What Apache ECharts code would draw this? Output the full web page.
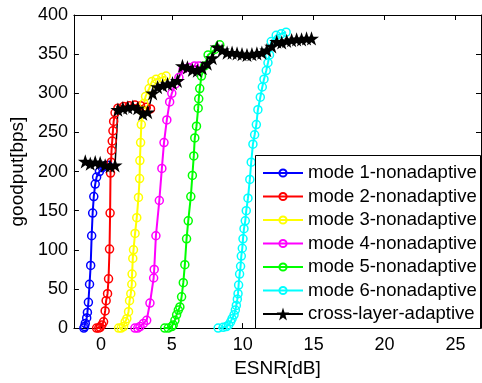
<!DOCTYPE html>
<html><head><meta charset="utf-8">
<script src="https://cdn.jsdelivr.net/npm/echarts@6/dist/echarts.min.js"></script>
<style>html,body{margin:0;padding:0;background:#fff}#c{width:482px;height:383px}</style>
</head><body><div id="c"></div><script>
const xTicks = [0, 5, 10, 15, 20, 25];
const yTicks = [0, 50, 100, 150, 200, 250, 300, 350, 400];
const seriesNames = ['mode 1-nonadaptive','mode 2-nonadaptive','mode 3-nonadaptive','mode 4-nonadaptive','mode 5-nonadaptive','mode 6-nonadaptive','cross-layer-adaptive'];
const seriesColors = ['#0000ff','#ff0000','#ffff00','#ff00ff','#00ff00','#00ffff','#000000'];

const mode1X = [-1.2,-1.15,-1.1,-1.0,-0.95,-0.88,-0.8,-0.72,-0.65,-0.58,-0.5,-0.4,-0.3,-0.1,0.1,0.3,0.5];
const mode1Y = [0,2,6,13,20,33,56,80,118,147,168,184,193,200,205,207,208];

const mode2X = [-0.3,-0.15,-0.05,0.07,0.19,0.3,0.37,0.47,0.54,0.61,0.65,0.68,0.72,0.75,0.8,0.85,0.9,1.0,1.2,1.6,2.0,2.4,2.8,3.2,3.5];
const mode2Y = [0,0,1,4,8,22,35,44,63,101,147,198,212,227,239,252,264,275,281,283,284,285,284,282,280];

const mode3X = [1.25,1.43,1.6,1.71,1.83,1.95,2.02,2.11,2.18,2.2,2.25,2.3,2.41,2.53,2.65,2.73,2.75,2.8,2.85,2.92,3.03,3.15,3.4,3.6,3.9,4.3,4.6];
const mode3Y = [0,0,2,8,12,21,35,44,56,69,89,100,121,141,167,191,214,237,260,277,287,296,306,315,318,320,322];

const mode4X = [2.4,2.6,2.76,3.0,3.23,3.46,3.72,3.76,3.88,4.12,4.3,4.45,4.65,4.85,5.0,5.25,5.5,5.8,6.2,6.6,6.9];
const mode4Y = [0,0,2,6,10,32,64,75,118,163,204,237,266,289,300,312,320,331,333,335,335];

const mode5X = [4.5,4.75,5.0,5.1,5.22,5.34,5.46,5.57,5.69,5.81,5.92,6.04,6.16,6.34,6.45,6.55,6.62,6.74,6.86,6.9,6.97,7.09,7.32,7.56,8.03,8.38];
const mode5Y = [0,0,2,4,10,17,23,27,40,58,81,114,137,168,195,220,243,258,281,293,306,322,335,349,356,362];

const mode6X = [8.27,8.62,8.85,9.01,9.15,9.25,9.39,9.48,9.55,9.62,9.67,9.71,9.78,9.85,9.9,9.97,10.02,10.09,10.18,10.25,10.37,10.5,10.6,10.72,10.84,10.96,11.07,11.24,11.38,11.5,11.66,11.78,11.89,12.01,12.36,12.71,13.06];
const mode6Y = [0,1,2,4,8,12,17,23,29,37,44,55,69,79,92,102,114,127,137,150,166,190,212,235,247,260,279,295,308,318,329,339,349,366,374,376,378];

const adaptiveX = [-1.1,-0.75,-0.4,-0.05,0.3,0.65,1.0,1.2,1.55,1.9,2.25,2.6,2.95,3.3,3.65,4.0,4.35,4.7,5.05,5.4,5.75,6.1,6.45,6.8,7.15,7.5,7.85,8.2,8.55,8.9,9.25,9.6,9.95,10.3,10.65,11.0,11.35,11.7,12.05,12.4,12.75,13.1,13.45,13.8,14.15,14.5,14.85];
const adaptiveY = [213,210,212,211,208,207,208,279,281,282,283,281,274,276,300,308,310,312,313,316,335,333,330,329,332,338,345,359,355,352,352,351,350,349,350,351,352,355,360,366,365,367,368,369,369,370,370];

const allX = [mode1X, mode2X, mode3X, mode4X, mode5X, mode6X, adaptiveX];
const allY = [mode1Y, mode2Y, mode3Y, mode4Y, mode5Y, mode6Y, adaptiveY];

const starPath = 'path://M0,-10L2.245,-3.09L9.511,-3.09L3.633,1.18L5.878,8.09L0,3.82L-5.878,8.09L-3.633,1.18L-9.511,-3.09L-2.245,-3.09Z';
const FONT = 'Liberation Sans, Arial, sans-serif';

const series = seriesNames.map((name, i) => {
  const data = allX[i].map((x, k) => [x, allY[i][k]]);
  const isStar = i === 6;
  return {
    name, type: 'line', data,
    symbol: isStar ? starPath : 'circle',
    symbolSize: isStar ? 15 : 8,
    symbolKeepAspect: true,
    showAllSymbol: true,
    animation: false,
    z: 2,
    lineStyle: { color: seriesColors[i], width: isStar ? 1.5 : 2 },
    itemStyle: isStar ? { color: '#000', borderColor: '#000', borderWidth: 0 }
                      : { color: 'rgba(255,255,255,0)', borderColor: seriesColors[i], borderWidth: 1.5 }
  };
});

const axisCommon = {
  axisLine: { show: true, onZero: false, lineStyle: { color: '#000', width: 1 } },
  axisTick: { show: true, inside: true, length: 5, lineStyle: { color: '#000' } },
  splitLine: { show: false }
};

const legendText = { fontFamily: FONT, fontSize: 18.5, color: '#000', lineHeight: 20 };

const chart = echarts.init(document.getElementById('c'), null, { renderer: 'canvas' });
chart.setOption({
  animation: false,
  backgroundColor: '#fff',
  grid: { left: 72, right: 1, top: 15, bottom: 48, containLabel: false },
  xAxis: [
    Object.assign({}, axisCommon, {
      type: 'value', min: -1.9, max: 26.8, position: 'bottom',
      name: 'ESNR[dB]', nameLocation: 'middle', nameGap: 26,
      nameTextStyle: { fontFamily: FONT, fontSize: 19, color: '#000' },
      axisTick: Object.assign({}, axisCommon.axisTick, { customValues: xTicks }),
      axisLabel: { customValues: xTicks, fontFamily: FONT, fontSize: 18, color: '#000', margin: 8 }
    }),
    Object.assign({}, axisCommon, {
      type: 'value', min: -1.9, max: 26.8, position: 'top',
      axisTick: Object.assign({}, axisCommon.axisTick, { customValues: xTicks }),
      axisLabel: { show: false }
    })
  ],
  yAxis: [
    Object.assign({}, axisCommon, {
      type: 'value', min: 0, max: 400, interval: 50, position: 'left',
      name: 'goodput[bps]', nameLocation: 'middle', nameGap: 44,
      nameTextStyle: { fontFamily: FONT, fontSize: 19, color: '#000' },
      axisLabel: { fontFamily: FONT, fontSize: 18, color: '#000', margin: 6 }
    }),
    Object.assign({}, axisCommon, {
      type: 'value', min: 0, max: 400, interval: 50, position: 'right',
      axisLabel: { show: false }
    })
  ],
  graphic: [{
    type: 'rect', left: 255, top: 155, z: 3,
    shape: { width: 225, height: 173 },
    style: { fill: '#fff', stroke: '#000', lineWidth: 1 }
  }],
  legend: [{
    orient: 'vertical', left: 255, top: 155, z: 5,
    data: seriesNames.slice(0, 6),
    padding: [8, 5, 0, 7],
    itemWidth: 40, itemHeight: 9, itemGap: 3.5,
    textStyle: legendText
  }, {
    orient: 'vertical', left: 255, top: 155 + 8 + 6 * 23.5, z: 5,
    data: seriesNames.slice(6),
    padding: [0, 5, 0, 7],
    itemWidth: 40, itemHeight: 16, itemGap: 3.5,
    textStyle: legendText
  }],
  series
});
</script></body></html>
